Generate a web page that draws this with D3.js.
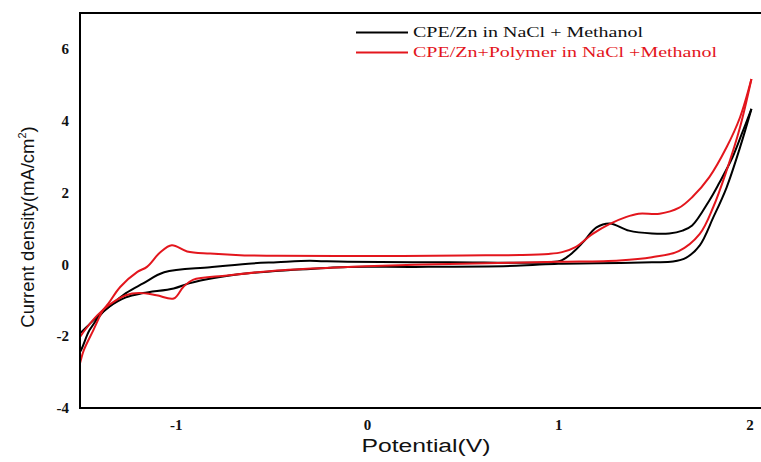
<!DOCTYPE html>
<html>
<head>
<meta charset="utf-8">
<script src="https://cdn.jsdelivr.net/npm/d3@7"></script>
<style>
  body { margin: 0; background: #fff; }
  svg { display: block; }
</style>
</head>
<body>
<div id="chart"></div>
<script>
// potential (V), current density (mA/cm2)
const blackForward = [
  [-1.53, -2.60], [-1.50, -2.44], [-1.45, -1.83], [-1.38, -1.33], [-1.35, -1.19],
  [-1.26, -0.80], [-1.17, -0.53], [-1.06, -0.22], [-0.82, -0.08], [-0.62, 0.02],
  [-0.47, 0.06], [-0.30, 0.10], [-0.24, 0.09], [-0.10, 0.07], [0.43, 0.06],
  [0.95, 0.06], [1.02, 0.12], [1.08, 0.35], [1.13, 0.62], [1.20, 1.03],
  [1.27, 1.14], [1.37, 0.94], [1.49, 0.86], [1.58, 0.86], [1.65, 0.94],
  [1.70, 1.08], [1.79, 1.78], [1.84, 2.25], [1.91, 2.97], [1.96, 3.64], [2.01, 4.33]
];
const blackReverse = [
  [2.01, 4.33], [1.95, 3.25], [1.88, 2.14], [1.81, 1.30], [1.74, 0.53],
  [1.67, 0.19], [1.60, 0.08], [1.49, 0.06], [1.20, 0.03], [1.00, 0.02],
  [0.78, -0.04], [0.25, -0.07], [-0.10, -0.07], [-0.40, -0.16], [-0.62, -0.25],
  [-0.80, -0.38], [-0.93, -0.53], [-1.01, -0.67], [-1.17, -0.80], [-1.26, -0.92],
  [-1.35, -1.19], [-1.43, -1.56], [-1.50, -1.92], [-1.53, -2.05]
];
const redForward = [
  [-1.53, -3.20], [-1.51, -2.94], [-1.48, -2.39], [-1.43, -1.83], [-1.38, -1.28],
  [-1.35, -1.08], [-1.29, -0.63], [-1.20, -0.21], [-1.15, -0.07], [-1.08, 0.34],
  [-1.02, 0.53], [-0.94, 0.36], [-0.82, 0.30], [-0.64, 0.25], [-0.47, 0.24],
  [0.00, 0.23], [0.50, 0.25], [0.80, 0.26], [0.95, 0.29], [1.02, 0.34],
  [1.09, 0.48], [1.18, 0.85], [1.27, 1.13], [1.35, 1.31], [1.42, 1.41],
  [1.53, 1.41], [1.63, 1.57], [1.70, 1.87], [1.79, 2.43], [1.88, 3.26],
  [1.95, 4.09], [2.01, 5.16]
];
const redReverse = [
  [2.01, 5.16], [1.95, 3.81], [1.88, 2.61], [1.81, 1.59], [1.74, 0.85],
  [1.63, 0.37], [1.49, 0.20], [1.32, 0.11], [1.00, 0.07], [0.50, 0.02],
  [0.25, -0.01], [-0.10, -0.07], [-0.47, -0.17], [-0.73, -0.31], [-0.91, -0.43],
  [-0.96, -0.63], [-1.01, -0.95], [-1.10, -0.86], [-1.19, -0.80], [-1.26, -0.86],
  [-1.35, -1.14], [-1.41, -1.42], [-1.47, -1.80], [-1.51, -2.10], [-1.53, -2.25]
];

const xTicks = [-1, 0, 1, 2];
const yTicks = [-4, -2, 0, 2, 4, 6];
const seriesNames = ['CPE/Zn in NaCl + Methanol', 'CPE/Zn+Polymer in NaCl +Methanol'];
const seriesColors = ['#000000', '#e3161d'];

const width = 761, height = 462;
const plot = {left: 80, top: 13, right: 761, bottom: 408};

const svg = d3.select('#chart').append('svg')
  .attr('width', width)
  .attr('height', height);

const xScale = d3.scaleLinear().domain([-1.5, 2.06]).range([plot.left, plot.right]);
const yScale = d3.scaleLinear().domain([-4, 7]).range([plot.bottom, plot.top]);

svg.append('clipPath').attr('id', 'clip')
  .append('rect')
  .attr('x', plot.left).attr('y', plot.top)
  .attr('width', plot.right - plot.left).attr('height', plot.bottom - plot.top);

const line = d3.line()
  .x(d => xScale(d[0]))
  .y(d => yScale(d[1]))
  .curve(d3.curveCatmullRom.alpha(0.5));

const curves = [
  {data: blackForward, color: seriesColors[0]},
  {data: blackReverse, color: seriesColors[0]},
  {data: redForward, color: seriesColors[1]},
  {data: redReverse, color: seriesColors[1]}
];

svg.append('g').attr('clip-path', 'url(#clip)')
  .selectAll('path')
  .data(curves)
  .enter()
  .append('path')
  .attr('d', d => line(d.data))
  .attr('fill', 'none')
  .attr('stroke', d => d.color)
  .attr('stroke-width', 2)
  .attr('stroke-linejoin', 'round');

// axes: labels only, no tick marks; plain hyphen for negatives
const fmt = d => String(d);
const xAxis = d3.axisBottom(xScale).tickValues(xTicks).tickFormat(fmt).tickSize(0).tickPadding(11);
const yAxis = d3.axisLeft(yScale).tickValues(yTicks).tickFormat(fmt).tickSize(0).tickPadding(11);

const gx = svg.append('g')
  .attr('transform', `translate(0,${plot.bottom})`)
  .call(xAxis);
const gy = svg.append('g')
  .attr('transform', `translate(${plot.left},0)`)
  .call(yAxis);

[gx, gy].forEach(g => {
  g.select('.domain').remove();
  g.selectAll('text')
    .attr('font-family', '"Liberation Serif", "Times New Roman", serif')
    .attr('font-weight', 'bold')
    .attr('font-size', 15)
    .attr('fill', '#111');
});

// frame (left, top, bottom)
svg.append('path')
  .attr('d', `M${plot.right},${plot.top}H${plot.left}V${plot.bottom}H${plot.right}`)
  .attr('fill', 'none')
  .attr('stroke', '#000')
  .attr('stroke-width', 2);

// axis titles
svg.append('text')
  .attr('x', 426)
  .attr('y', 452)
  .attr('text-anchor', 'middle')
  .attr('font-family', '"Liberation Sans", Arial, sans-serif')
  .attr('font-size', 18)
  .attr('textLength', 129)
  .attr('lengthAdjust', 'spacingAndGlyphs')
  .attr('fill', '#111')
  .text('Potential(V)');

const yTitle = svg.append('text')
  .attr('transform', 'translate(34,227) rotate(-90)')
  .attr('text-anchor', 'middle')
  .attr('font-family', '"Liberation Sans", Arial, sans-serif')
  .attr('font-size', 18.5)
  .attr('fill', '#111');
yTitle.append('tspan').text('Current density(mA/cm');
yTitle.append('tspan').attr('font-size', 11).attr('dy', -8).text('2');
yTitle.append('tspan').attr('dy', 8).text(')');

// legend
const legend = svg.append('g');
const legendY = [32.5, 52.5];
const legendLen = [230, 304];
seriesNames.forEach((name, i) => {
  legend.append('line')
    .attr('x1', 356).attr('x2', 408)
    .attr('y1', legendY[i]).attr('y2', legendY[i])
    .attr('stroke', seriesColors[i])
    .attr('stroke-width', 2);
  legend.append('text')
    .attr('x', 413)
    .attr('y', legendY[i] + 4.5)
    .attr('font-family', '"Liberation Serif", "Times New Roman", serif')
    .attr('font-size', 14)
    .attr('textLength', legendLen[i])
    .attr('lengthAdjust', 'spacingAndGlyphs')
    .attr('fill', i === 0 ? '#111' : seriesColors[i])
    .text(name);
});
</script>
</body>
</html>
